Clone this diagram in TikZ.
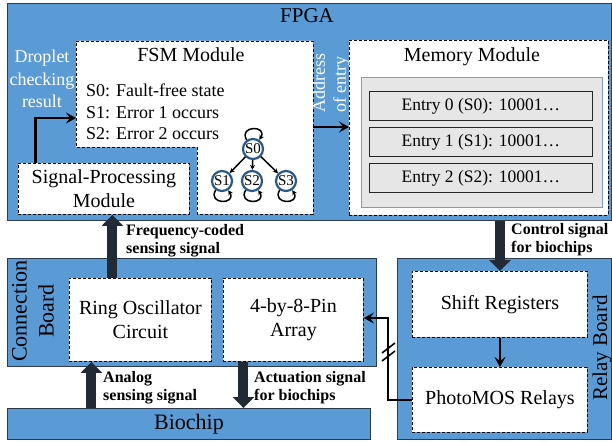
\documentclass[tikz,border=0pt]{standalone}
\usepackage{fontspec}
\setmainfont{Liberation Serif}
\usetikzlibrary{arrows.meta,calc}
\definecolor{bl}{HTML}{5B9BD5}
\definecolor{bord}{HTML}{2E3B4E}
\definecolor{dk}{HTML}{222A35}
\definecolor{stc}{HTML}{2B5A87}
\definecolor{gr}{HTML}{E6E6E6}
\definecolor{grb}{HTML}{7F9DB9}
\begin{document}
\begin{tikzpicture}[x=1pt,y=-1pt,
  board/.style={draw=bord, fill=bl, line width=0.9pt, inner sep=0pt, anchor=north west, align=center},
  dbox/.style={draw=black, fill=white, dash pattern=on 3pt off 2pt, line width=0.9pt, inner sep=0pt, anchor=north west, align=center, font=\fontsize{20}{24}\selectfont},
  entrybox/.style={draw=black!85, fill=gr, line width=0.8pt, inner sep=0pt, anchor=north west, font=\fontsize{17.5}{18}\selectfont},
  st/.style={circle, draw=stc, line width=2.2pt, fill=white, inner sep=0pt, minimum size=20pt, font=\fontsize{15}{15}\selectfont},
  sm/.style={line width=1.5pt, -{Stealth[length=5pt,width=5pt]}},
  bigarrow/.style={draw=dk, line width=10pt, -{Triangle[width=21pt,length=11pt]}},
  thinarrow/.style={draw=black, line width=2.3pt, -{Stealth[length=10pt,width=11pt,inset=4pt]}},
  lbl/.style={font=\fontsize{16}{18}\selectfont\bfseries, align=left, anchor=west, inner sep=0pt},
  wt/.style={text=white, font=\fontsize{18}{21}\selectfont, inner sep=0pt}
]
\useasboundingbox (0,0) rectangle (612,441);
\fill[white] (0,0) rectangle (612,441);

% FPGA
\node[board, minimum width=604pt, minimum height=217pt] (fpga) at (7,3) {};
\node[font=\fontsize{21}{21}\selectfont, inner sep=0pt] (fpgat) at (307,16) {FPGA};

% FSM module (L-shaped)
\draw[fill=white, dash pattern=on 3pt off 2pt, line width=0.9pt]
  (76,41) -- (313,41) -- (313,214) -- (197,214) -- (197,147) -- (76,147) -- cycle;
\node[font=\fontsize{20}{20}\selectfont, inner sep=0pt] (fsmt) at (191,55) {FSM Module};
\node[font=\fontsize{18}{18}\selectfont, inner sep=0pt, anchor=base west] (l0) at (86,97) {S0: Fault-free state};
\node[font=\fontsize{18}{18}\selectfont, inner sep=0pt, anchor=base west] (l1) at (86,118) {S1: Error 1 occurs};
\node[font=\fontsize{18}{18}\selectfont, inner sep=0pt, anchor=base west] (l2) at (86,139) {S2: Error 2 occurs};

% state diagram
\node[st] (s0) at (253,149) {S0};
\node[st] (s1) at (222,181) {S1};
\node[st] (s2) at (252,181) {S2};
\node[st] (s3) at (286,181) {S3};
\draw[sm] (s0) -- (s1);
\draw[sm] (s0) -- (s2);
\draw[sm] (s0) -- (s3);
\draw[sm] (s0.125) .. controls +(120:17pt) and +(60:17pt) .. (s0.55);
\draw[sm] (s1.-125) .. controls +(-120:17pt) and +(-60:17pt) .. (s1.-55);
\draw[sm] (s2.-125) .. controls +(-120:17pt) and +(-60:17pt) .. (s2.-55);
\draw[sm] (s3.-125) .. controls +(-120:17pt) and +(-60:17pt) .. (s3.-55);

% droplet text
\node[wt, anchor=base] (dr1) at (42,63) {Droplet};
\node[wt, anchor=base] (dr2) at (42,85) {checking};
\node[wt, anchor=base] (dr3) at (42,107) {result};

% signal processing
\node[dbox, minimum width=171pt, minimum height=51pt] (sp) at (18,163) {Signal-Processing\\Module};

% memory module
\node[dbox, minimum width=259pt, minimum height=175pt] (mem) at (349,40) {};
\node[font=\fontsize{20}{20}\selectfont, inner sep=0pt] (memt) at (472,57) {Memory Module};
\node[draw=grb, fill=gr, line width=0.8pt, inner sep=0pt, anchor=north west, minimum width=241pt, minimum height=130pt] (inner) at (361,77) {};
\node[entrybox, minimum width=223pt, minimum height=29pt] (e0) at (369,91) {Entry 0 (S0): 10001…};
\node[entrybox, minimum width=223pt, minimum height=29pt] (e1) at (369,127) {Entry 1 (S1): 10001…};
\node[entrybox, minimum width=223pt, minimum height=29pt] (e2) at (369,163) {Entry 2 (S2): 10001…};

% address of entry
\node[wt, rotate=90, anchor=west, align=left] (addr) at (331,113) {Address\\of entry};

% FPGA internal arrows
\coordinate (d1) at ([xshift=-68.5pt]sp.north);
\coordinate (fsmL) at (76,118);
\draw[thinarrow] (d1) |- (fsmL);
\coordinate (fsmR) at (313,127);
\draw[thinarrow] (fsmR) -- (fsmR -| mem.west);

% connection board
\node[board, minimum width=369pt, minimum height=108pt] (conn) at (7,258) {};
\node[font=\fontsize{22}{27}\selectfont, rotate=90, inner sep=0pt, align=center] (connt) at (33,311) {Connection\\Board};
\node[dbox, minimum width=142pt, minimum height=83pt] (ring) at (69,278) {Ring Oscillator\\Circuit};
\node[dbox, minimum width=140pt, minimum height=83pt] (pin) at (223,278) {4-by-8-Pin\\Array};

% relay board
\node[board, minimum width=214pt, minimum height=181pt] (relay) at (397,258) {};
\node[font=\fontsize{21}{21}\selectfont, rotate=90, inner sep=0pt] (relayt) at (602,348) {Relay Board};
\node[dbox, minimum width=175pt, minimum height=66pt] (shift) at (412,271) {Shift Registers};
\node[dbox, minimum width=175pt, minimum height=65pt] (photo) at (412,367) {PhotoMOS Relays};
\draw[thinarrow] (shift.south) -- (photo.north);

% biochip
\node[board, minimum width=363pt, minimum height=31pt, font=\fontsize{22}{22}\selectfont] (bio) at (7,408) {Biochip};

% thick arrows
\draw[bigarrow] (fpga.south -| shift.north) -- (shift.north);
\coordinate (f1) at ([xshift=-28pt]ring.north);
\draw[bigarrow] (f1) -- (f1 |- sp.south);
\coordinate (a1) at ([xshift=-49pt]ring.south);
\draw[bigarrow] (a1 |- bio.north) -- (a1);
\coordinate (c1) at ([xshift=-50pt]pin.south);
\draw[bigarrow] (c1) -- (c1 |- bio.north);

% labels
\node[lbl] (lf) at (126,241) {Frequency-coded\\sensing signal};
\node[lbl] (lc) at (511,240) {Control signal\\for biochips};
\node[lbl] (la) at (103,388) {Analog\\sensing signal};
\node[lbl] (lac) at (254,388) {Actuation signal\\for biochips};

% relay to pin array
\coordinate (bend) at (388,318);
\draw[thinarrow] (photo.west) -| (bend) -- (bend -| pin.east);
\draw[line width=1.6pt] (382,353) -- (395,343);
\draw[line width=1.6pt] (382,361) -- (395,351);
\end{tikzpicture}
\end{document}
